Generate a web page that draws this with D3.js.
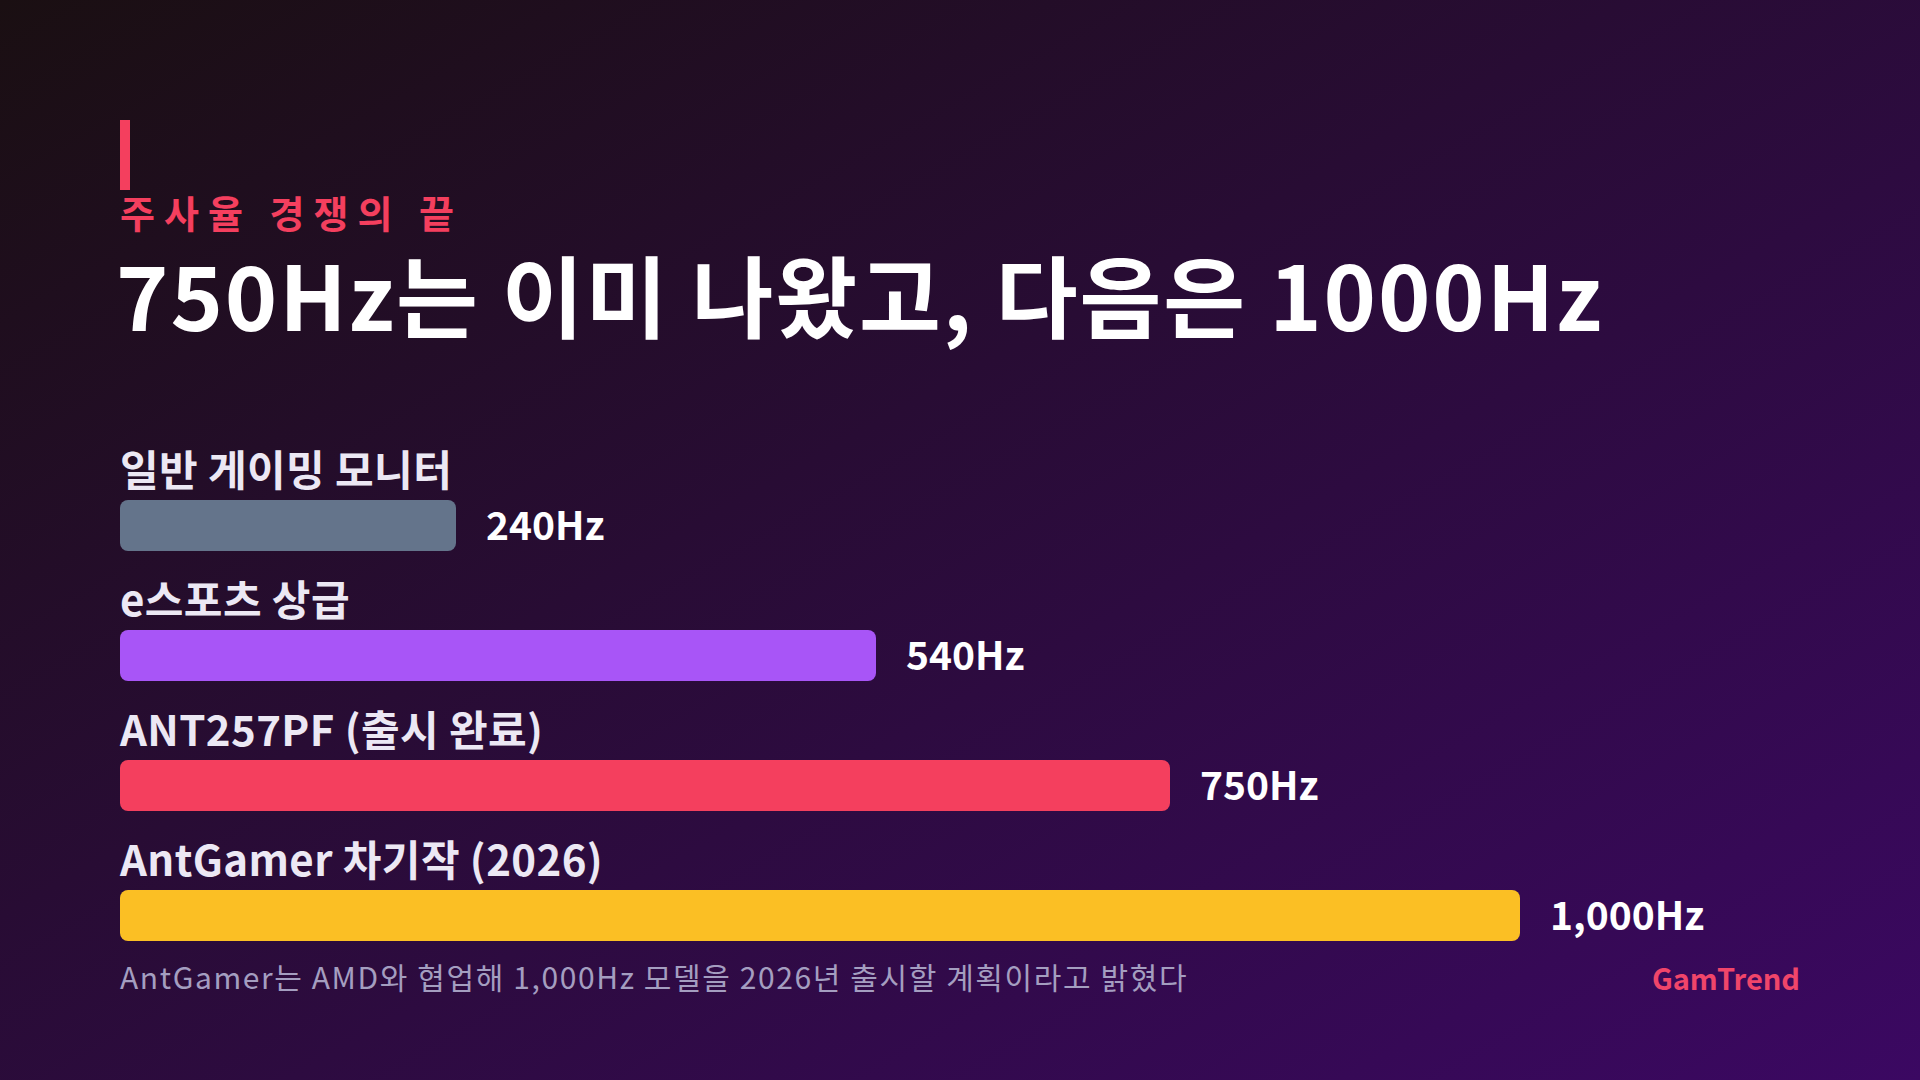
<!DOCTYPE html>
<html>
<head>
<meta charset="utf-8">
<script src="https://cdn.jsdelivr.net/npm/d3@7"></script>
<style>
  html, body { margin: 0; padding: 0; background: #1a0f12; }
  svg { display: block; }
  text { font-family: "Noto Sans CJK KR", "Noto Sans", sans-serif; }
</style>
</head>
<body>
<div id="chart"></div>
<script>
var svgWidth = 1920;
var svgHeight = 1080;

var margin = { top: 120, right: 120, bottom: 80, left: 120 };

// chart data
var categories = ["일반 게이밍 모니터", "e스포츠 상급", "ANT257PF (출시 완료)", "AntGamer 차기작 (2026)"];
var refreshRates = [240, 540, 750, 1000];
var valueLabels = ["240Hz", "540Hz", "750Hz", "1,000Hz"];
var barColors = ["#64748b", "#a855f7", "#f43f5e", "#fbbf24"];

var kicker = "주사율 경쟁의 끝";
var title = "750Hz는 이미 나왔고, 다음은 1000Hz";
var note = "AntGamer는 AMD와 협업해 1,000Hz 모델을 2026년 출시할 계획이라고 밝혔다";
var brand = "GamTrend";

var svg = d3.select("#chart")
  .append("svg")
  .attr("width", svgWidth)
  .attr("height", svgHeight);

// background gradient
var defs = svg.append("defs");
var grad = defs.append("linearGradient")
  .attr("id", "bg")
  .attr("x1", 0).attr("y1", 0)
  .attr("x2", 1).attr("y2", 1);
grad.append("stop").attr("offset", "0%").attr("stop-color", "#1a0f12");
grad.append("stop").attr("offset", "100%").attr("stop-color", "#3b0862");

svg.append("rect")
  .attr("width", svgWidth)
  .attr("height", svgHeight)
  .attr("fill", "url(#bg)");

// header
svg.append("rect")
  .attr("x", margin.left)
  .attr("y", 120)
  .attr("width", 10)
  .attr("height", 70)
  .attr("fill", "#f43f5e");

svg.append("text")
  .attr("x", margin.left)
  .attr("y", 228)
  .attr("fill", "#f43f5e")
  .attr("font-size", 38)
  .attr("font-weight", 700)
  .attr("letter-spacing", 9)
  .text(kicker);

svg.append("text")
  .attr("x", margin.left - 4)
  .attr("y", 331)
  .attr("fill", "#ffffff")
  .attr("font-size", 89)
  .attr("font-weight", 700)
  .attr("letter-spacing", 1.9)
  .text(title);

// scales
var x = d3.scaleLinear()
  .domain([0, 1000])
  .range([0, 1400]);

var y = d3.scaleBand()
  .domain(categories)
  .range([500, 1020])
  .paddingInner(0)
  .align(0);

var barHeight = 51;

var chartGroup = svg.append("g")
  .attr("transform", "translate(" + margin.left + ",0)");

var rows = chartGroup.selectAll("g.row")
  .data(categories)
  .enter()
  .append("g")
  .attr("class", "row")
  .attr("transform", d => "translate(0," + y(d) + ")");

rows.append("text")
  .attr("x", 0)
  .attr("y", -14)
  .attr("fill", "#ece8f4")
  .attr("font-size", 42)
  .attr("font-weight", 700)
  .attr("letter-spacing", 0.4)
  .text(d => d);

rows.append("rect")
  .attr("x", 0)
  .attr("y", 0)
  .attr("width", (d, i) => x(refreshRates[i]))
  .attr("height", barHeight)
  .attr("rx", 8)
  .attr("fill", (d, i) => barColors[i]);

rows.append("text")
  .attr("x", (d, i) => x(refreshRates[i]) + 30)
  .attr("y", barHeight / 2)
  .attr("dy", "0.36em")
  .attr("fill", "#ffffff")
  .attr("font-size", 39)
  .attr("font-weight", 700)
  .text((d, i) => valueLabels[i]);

// footer
svg.append("text")
  .attr("x", margin.left)
  .attr("y", 989)
  .attr("fill", "#a49ec0")
  .attr("font-size", 30)
  .attr("font-weight", 400)
  .attr("letter-spacing", 1.6)
  .text(note);

svg.append("text")
  .attr("x", svgWidth - margin.right)
  .attr("y", 990)
  .attr("text-anchor", "end")
  .attr("fill", "#f0456a")
  .attr("font-size", 29)
  .attr("font-weight", 700)
  .text(brand);
</script>
</body>
</html>
